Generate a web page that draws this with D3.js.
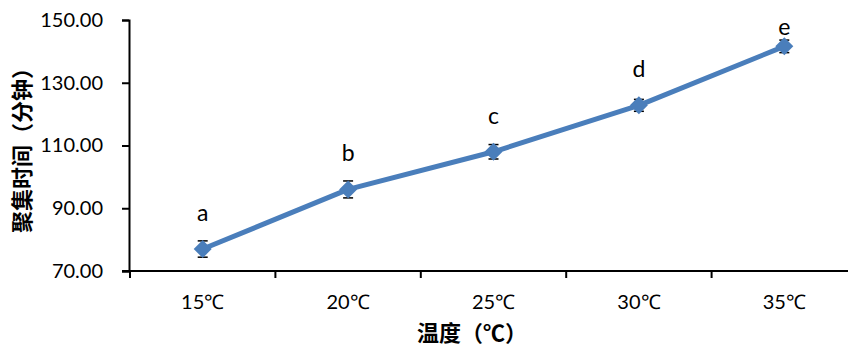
<!DOCTYPE html>
<html>
<head>
<meta charset="utf-8">
<script src="https://cdn.jsdelivr.net/npm/d3@7"></script>
<style>
  body { margin: 0; background: #fff; }
  svg { display: block; }
</style>
</head>
<body>
<script>
// data
const categories = ['15℃', '20℃', '25℃', '30℃', '35℃']
const means = [77.0, 96.0, 108.0, 122.8, 141.6]
const errors = [2.6, 2.7, 2.3, 1.9, 2.0]
const letters = ['a', 'b', 'c', 'd', 'e']
const yTicks = [70, 90, 110, 130, 150]

const width = 848
const height = 349
const plotLeft = 129
const plotTop = 20
const plotBottom = 271

const svg = d3.select('body')
    .append('svg')
    .attr('width', width)
    .attr('height', height)

const xScale = d3.scaleBand()
    .domain(categories)
    .range([plotLeft + 1, plotLeft + 1 + 145.4 * 5])

const yScale = d3.scaleLinear()
    .domain([70, 150])
    .range([plotBottom, plotTop])

const numFont = 'Lato, "Open Sans", sans-serif'
const cjkFont = '"Noto Sans CJK SC", sans-serif'

// y axis
const yAxis = svg.append('g')
    .attr('transform', 'translate(' + plotLeft + ',0)')
    .call(d3.axisLeft(yScale).tickValues(yTicks).tickFormat(d3.format('.2f')).tickSizeOuter(0).tickSize(7).tickPadding(19))
yAxis.select('.domain').attr('stroke', '#000').attr('stroke-width', 2)
yAxis.selectAll('.tick line').attr('stroke', '#000').attr('stroke-width', 2)
yAxis.selectAll('text').attr('font-family', numFont).attr('font-size', 20).attr('fill', '#000')

// x axis
const xAxis = svg.append('g')
    .attr('transform', 'translate(0,' + plotBottom + ')')
    .call(d3.axisBottom(xScale).tickSize(0).tickPadding(24))
xAxis.select('.domain').attr('d', 'M' + (plotLeft - 7) + ',0H' + width).attr('stroke', '#000').attr('stroke-width', 2)
xAxis.selectAll('text').attr('font-family', numFont).attr('font-size', 20).attr('fill', '#000')

// tick marks at band boundaries
const bounds = categories.map(c => xScale(c))
svg.append('g').selectAll('line')
    .data(bounds)
    .enter().append('line')
    .attr('x1', d => d).attr('x2', d => d)
    .attr('y1', plotBottom).attr('y2', plotBottom + 7)
    .attr('stroke', '#000').attr('stroke-width', 2)

const cx = (d, i) => xScale(categories[i]) + xScale.bandwidth() / 2

// line
const line = d3.line()
    .x((d, i) => cx(d, i))
    .y(d => yScale(d))
svg.append('path')
    .datum(means)
    .attr('d', line)
    .attr('fill', 'none')
    .attr('stroke', '#4a7ebb')
    .attr('stroke-width', 5)
    .attr('stroke-linejoin', 'round')

// error bars
const eb = svg.append('g').attr('stroke', '#000').attr('stroke-width', 1.5)
means.forEach((m, i) => {
    const x = cx(m, i)
    const y1 = yScale(m + errors[i])
    const y2 = yScale(m - errors[i])
    eb.append('line').attr('x1', x).attr('x2', x).attr('y1', y1).attr('y2', y2)
    eb.append('line').attr('x1', x - 5).attr('x2', x + 5).attr('y1', y1).attr('y2', y1)
    eb.append('line').attr('x1', x - 5).attr('x2', x + 5).attr('y1', y2).attr('y2', y2)
})

// diamond markers
svg.append('g').selectAll('path')
    .data(means)
    .enter().append('path')
    .attr('d', 'M0,-9L9,0L0,9L-9,0Z')
    .attr('transform', (d, i) => 'translate(' + cx(d, i) + ',' + yScale(d) + ')')
    .attr('fill', '#4a7ebb')

// significance letters (pushed down when they would leave the top edge)
svg.append('g').selectAll('text')
    .data(means)
    .enter().append('text')
    .attr('x', (d, i) => cx(d, i))
    .attr('y', d => Math.max(yScale(d) - 28, 35))
    .attr('text-anchor', 'middle')
    .attr('font-family', numFont)
    .attr('font-size', 23)
    .text((d, i) => letters[i])

// axis titles
svg.append('text')
    .attr('x', 472)
    .attr('y', 341)
    .attr('text-anchor', 'middle')
    .attr('font-family', cjkFont)
    .attr('font-weight', 'bold')
    .attr('font-size', 22)
    .text('温度（℃）')

svg.append('text')
    .attr('transform', 'translate(30,145) rotate(-90)')
    .attr('text-anchor', 'middle')
    .attr('font-family', cjkFont)
    .attr('font-weight', 'bold')
    .attr('font-size', 22)
    .text('聚集时间（分钟）')
</script>
</body>
</html>
